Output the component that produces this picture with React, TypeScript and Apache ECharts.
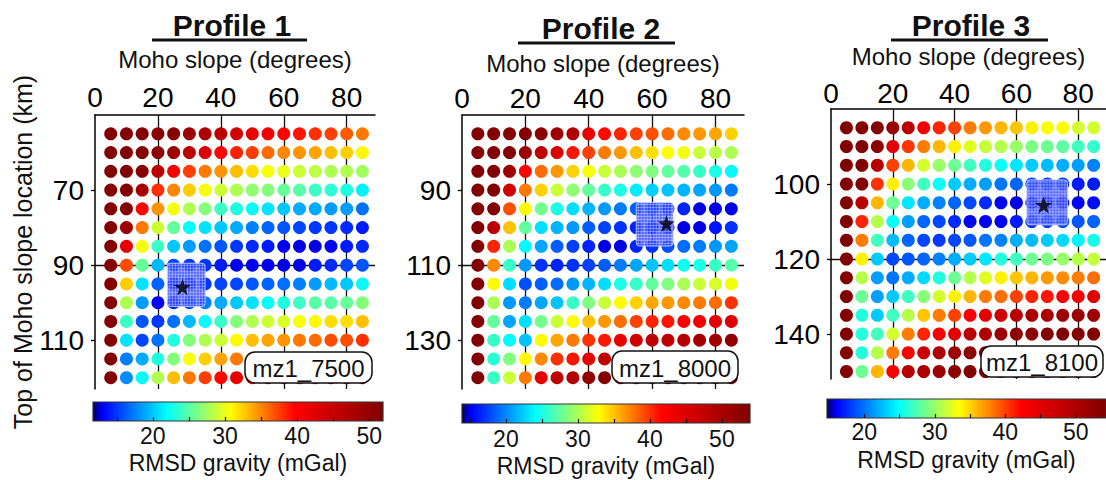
import React, { useEffect, useRef } from "react";
import * as echarts from "echarts";

// ---------------- DATA ----------------
const slopes = [5, 10, 15, 20, 25, 30, 35, 40, 45, 50, 55, 60, 65, 70, 75, 80, 85];
const locations1 = [55, 60, 65, 70, 75, 80, 85, 90, 95, 100, 105, 110, 115, 120];
const locations2 = [75, 80, 85, 90, 95, 100, 105, 110, 115, 120, 125, 130, 135, 140];
const locations3 = [85, 90, 95, 100, 105, 110, 115, 120, 125, 130, 135, 140, 145, 150];

const rmsd1 = [
  [51.5, 51.5, 51.5, 51, 51, 49, 47.5, 46, 44, 42, 41, 39.5, 39, 38, 37.5, 36.5, 35.5],
  [51.5, 51.5, 51.5, 50.5, 49, 46, 43, 39.5, 38.5, 37.5, 36, 35, 34.5, 34, 33, 32.5, 31],
  [51.5, 51.5, 51, 46, 40.5, 37.5, 35.5, 34.5, 33, 32, 30.5, 30, 29, 28.5, 28, 28, 27.5],
  [51.5, 51.5, 48, 38, 35, 32.5, 30.5, 29, 28, 27, 26.5, 25.5, 25, 24, 23.5, 23, 21.5],
  [51.5, 51.5, 39.5, 34.5, 30.5, 28, 26.5, 24, 23, 22, 21, 20, 19, 19, 18.5, 18.5, 17],
  [51.5, 49, 35.5, 29, 25.5, 22, 21, 20, 19, 17.5, 16.5, 16, 15.5, 15, 15, 14.5, 14],
  [51.5, 42, 30.5, 24, 20, 18.5, 17, 16, 15, 14.5, 14, 13, 12.8, 12.8, 13, 14, 14.5],
  [51.5, 37, 25.5, 19.5, 15.5, 15, 15, 14, 13, 13, 12.9, 12.8, 12.8, 14, 14.5, 15.5, 16],
  [51.5, 32.5, 21, 16.5, 14, 14, 15, 15.5, 15.5, 16, 16.5, 17, 17.5, 18.5, 19.5, 20, 22],
  [51.5, 28, 18.5, 13, 14.5, 16, 17.5, 19, 20, 21, 22, 23, 24, 25, 25, 25.5, 26.5],
  [51.5, 24, 16, 15, 17, 19.5, 22, 24, 26.5, 28, 29, 29.5, 30.5, 31, 32, 32, 33],
  [51.5, 21, 15.5, 17, 23, 26.5, 28, 29, 31, 33, 34, 34.5, 35.5, 36, 37, 37, 38],
  [51.5, 17.5, 19, 23, 26.5, 30.5, 32.5, 34, 35.5, 37, 38, 39, 40, 41, 42, 43, 44],
  [51.5, 18, 22, 28, 33, 35.5, 37.5, 39.5, 42, 44, 45, 46, 47, 48, 48.5, 49, 49.5],
];

const rmsd2 = [
  [53.5, 53.5, 53.5, 53.5, 52.5, 51, 49.5, 44, 41.5, 40.5, 39.5, 39, 38, 37, 36.5, 36, 34.5],
  [53.5, 53.5, 53.5, 51, 48, 45, 41, 39.5, 37.5, 36.5, 35, 34, 33, 32.5, 31, 30.5, 30],
  [53.5, 53.5, 51, 41.5, 38, 36.5, 34.5, 32.5, 31, 30, 29, 28.5, 27.5, 27, 26, 25, 24],
  [53.5, 53.5, 46, 37.5, 34.5, 31, 29, 27.5, 26, 25, 23.5, 22.5, 22, 21.5, 21, 20.5, 19.5],
  [53.5, 53.5, 39, 33, 28, 25, 23, 21.5, 20.5, 19.5, 18.5, 18, 17, 16.5, 15, 15, 15],
  [53.5, 48, 35, 27.5, 23, 21.5, 20.5, 18.5, 17.5, 17, 16.5, 16, 15.5, 15, 15, 16, 17],
  [53.5, 40.5, 30, 24, 21, 18.5, 17.5, 16.5, 15, 15, 16.5, 17, 18, 19, 19.5, 20.5, 21],
  [53.5, 37, 26, 20.5, 17, 16.5, 17, 17.5, 18.5, 19.5, 21, 22, 23, 24.5, 25, 26, 27],
  [53.5, 33, 23, 18, 18.5, 19, 20.5, 21.5, 23, 25, 26, 27.5, 28.5, 30, 31, 31.5, 32.5],
  [53.5, 30, 20.5, 19.5, 21, 22, 26, 28.5, 31, 33, 34.5, 36, 36.5, 37, 37.5, 38, 40],
  [53.5, 27.5, 21, 23, 28, 31, 33, 35, 36.5, 38, 39.5, 40.5, 41, 42, 43, 44, 45],
  [53.5, 26, 24, 22, 33, 36, 37.5, 40, 41, 44, 46, 48, 48, 49, 50.5, 50.5, 52],
  [53.5, 25.5, 28.5, 33, 37, 40, 41, 44, 48, 49, 50, 51, 52, 52, 53, 53, 53],
  [53.5, 26, 31, 37.5, 44, 48, 49, 52, 53.5, 53.5, 53.5, 53.5, 53.5, 53.5, 53.5, 53.5, 53.5],
];

const rmsd3 = [
  [54, 54, 54, 52, 49, 43, 41, 40, 38, 37, 36, 35.5, 34, 33.5, 33.5, 32, 32],
  [54, 54, 53, 45, 40.5, 38, 36, 34, 32.5, 31.5, 31, 30, 29, 28.5, 28, 27, 26.5],
  [54, 54, 49, 40, 36, 32, 30, 28.5, 27, 26, 25, 24, 23, 22.5, 22, 21.5, 20.5],
  [54, 54, 40.5, 34, 29.5, 27, 25, 23, 22, 21.5, 20, 19.5, 18.5, 18, 18, 17, 17],
  [54, 49, 36, 28.5, 24, 22, 20.5, 19.5, 18.5, 17.5, 16, 15.8, 16, 16, 16, 16, 16.5],
  [54, 41, 31, 25, 21.5, 19.5, 18.5, 17.5, 16, 16, 16, 17, 17.5, 18, 18.5, 19, 19.5],
  [54, 38, 27, 22.5, 19.5, 18.5, 18, 18.5, 19, 20, 20.5, 22, 22.5, 23, 23.5, 24.5, 25.5],
  [54, 34, 23, 18.5, 19, 19.5, 20.5, 22, 23, 24, 26, 27, 28.5, 29, 30, 31, 31.5],
  [54, 31, 21.5, 20, 22, 23.5, 26, 28.5, 31, 32.5, 34, 35.5, 36, 37, 37.5, 38, 38.5],
  [54, 28.5, 21.5, 23, 27, 29.5, 32, 34, 36, 38, 38.5, 40, 41, 41.5, 42.5, 43, 45],
  [54, 26, 23, 27, 31, 35.5, 38, 40, 43, 45, 47, 49, 50, 50, 51.5, 51.5, 51.5],
  [54, 26, 27, 32, 38, 41, 43, 45, 49, 50, 51.5, 53, 53, 54, 54, 54, 54],
  [54, 26, 31, 38, 42.5, 47, 50, 51.5, 53, 54, 54, 54, 54, 54, 54, 54, 54],
  [54, 28.5, 36, 42.5, 49, 50, 51.5, 53, 54, 54, 54, 54, 54, 54, 54, 54, 54],
];

// best-fit stars [slope, location] and shaded best-fit zones [x0, x1, y0, y1]
const best1 = [27.8, 95.8];
const best2 = [64.5, 98.9];
const best3 = [68.8, 105.6];
const zone1 = [23, 35, 89.5, 101];
const zone2 = [55, 66.6, 93.3, 104.9];
const zone3 = [63.4, 76.5, 98.9, 110.9];

const titles = ["Profile 1", "Profile 2", "Profile 3"];
const modelNames = ["mz1_7500", "mz1_8000", "mz1_8100"];
const xTickLabels = [0, 20, 40, 60, 80];
const yTickLabels1 = [70, 90, 110];
const yTickLabels2 = [90, 110, 130];
const yTickLabels3 = [100, 120, 140];
const cbarTickValues = [15, 20, 25, 30, 35, 40, 45, 50];
const cbarLabelValues = [20, 30, 40, 50];
const cbarRange1 = [11.7, 51.9];
const cbarRange2 = [13.9, 53.9];
const cbarRange3 = [14.7, 54.3];
const xName = "Moho slope (degrees)";
const yName = "Top of Moho slope location (km)";
const cbarName = "RMSD gravity (mGal)";

// ---------------- STYLE ----------------
const FONT = '"Liberation Sans", Arial, Helvetica, sans-serif';
const cmapStops: [number, string][] = [
  [0, "#00005a"], [0.02, "#0000c8"], [0.035, "#0000ff"], [0.145, "#0080ff"],
  [0.255, "#00ffff"], [0.365, "#80ff80"], [0.475, "#ffff00"], [0.585, "#ff8000"],
  [0.695, "#ff0000"], [1, "#800000"],
];
function hexToRgb(h: string) {
  return [parseInt(h.slice(1, 3), 16), parseInt(h.slice(3, 5), 16), parseInt(h.slice(5, 7), 16)];
}
function sampleCmap(t: number) {
  for (let i = 0; i < cmapStops.length - 1; i++) {
    const [t0, c0] = cmapStops[i];
    const [t1, c1] = cmapStops[i + 1];
    if (t >= t0 && t <= t1) {
      const f = (t - t0) / (t1 - t0);
      const a = hexToRgb(c0), b = hexToRgb(c1);
      const c = a.map((v, k) => Math.round(v + (b[k] - v) * f));
      return `rgb(${c[0]},${c[1]},${c[2]})`;
    }
  }
  return cmapStops[cmapStops.length - 1][1];
}
const cmapColors = Array.from({ length: 101 }, (_, i) => sampleCmap(i / 100));

const STAR =
  "path://M0,-10 L2.35,-3.24 L9.51,-3.09 L3.8,1.24 L5.88,8.09 L0,4 L-5.88,8.09 L-3.8,1.24 L-9.51,-3.09 L-2.35,-3.24 Z";

const panels = [
  {
    rows: rmsd1, locs: locations1, best: best1, zone: zone1, yTicks: yTickLabels1, cbar: cbarRange1,
    grid: { left: 95, top: 115, width: 280, height: 274 }, yMin: 50, yMax: 123,
    xLabelMargin: 4, xNameGap: 44, showYName: true,
    cgrid: { left: 93, top: 402, width: 290, height: 19 }, cLabelMargin: 3, cNameGap: 30,
    title: { x: 232, y: 25 }, underline: { x1: 152, x2: 307, y: 40 },
    box: { x: 245, y: 352, w: 127, h: 31 },
  },
  {
    rows: rmsd2, locs: locations2, best: best2, zone: zone2, yTicks: yTickLabels2, cbar: cbarRange2,
    grid: { left: 462, top: 115, width: 282, height: 274 }, yMin: 70, yMax: 143,
    xLabelMargin: 3, xNameGap: 40, showYName: false,
    cgrid: { left: 462, top: 404, width: 288, height: 19 }, cLabelMargin: 4, cNameGap: 31,
    title: { x: 601, y: 28 }, underline: { x1: 518, x2: 675, y: 43 },
    box: { x: 612, y: 351, w: 126, h: 32 },
  },
  {
    rows: rmsd3, locs: locations3, best: best3, zone: zone3, yTicks: yTickLabels3, cbar: cbarRange3,
    grid: { left: 831, top: 109, width: 279, height: 270 }, yMin: 80, yMax: 152,
    xLabelMargin: 2, xNameGap: 41, showYName: false,
    cgrid: { left: 827, top: 399, width: 282, height: 19 }, cLabelMargin: 2, cNameGap: 30,
    title: { x: 971, y: 25 }, underline: { x1: 891, x2: 1048, y: 40 },
    box: { x: 981, y: 346, w: 122, h: 31 },
  },
];

function buildOption() {
  const grid: any[] = [];
  const xAxis: any[] = [];
  const yAxis: any[] = [];
  const series: any[] = [];
  const visualMap: any[] = [];
  const graphic: any[] = [];

  panels.forEach((p, i) => {
    grid.push({ ...p.grid });
    xAxis.push({
      gridIndex: i, type: "value", position: "top", min: 0, max: 89,
      axisLine: { show: true, onZero: false, lineStyle: { color: "#000", width: 1.5 } },
      axisTick: { show: false },
      axisLabel: { customValues: xTickLabels, color: "#000", fontSize: 28, fontFamily: FONT, margin: p.xLabelMargin },
      splitLine: { show: true, showMinLine: false, showMaxLine: false, lineStyle: { color: "#111", width: 1.3 } },
      name: xName, nameLocation: "middle", nameGap: p.xNameGap,
      nameTextStyle: { color: "#111", fontSize: 24, fontFamily: FONT },
    });
    yAxis.push({
      gridIndex: i, type: "value", inverse: true, min: p.yMin, max: p.yMax, interval: 20,
      axisLine: { show: true, onZero: false, lineStyle: { color: "#000", width: 1.5 } },
      axisTick: { show: true, customValues: p.yTicks, length: 4, lineStyle: { color: "#000", width: 1.3 } },
      axisLabel: { customValues: p.yTicks, color: "#000", fontSize: 28, fontFamily: FONT, margin: 11 },
      splitLine: { show: true, showMinLine: false, showMaxLine: false, lineStyle: { color: "#111", width: 1.3 } },
      name: p.showYName ? yName : "", nameLocation: "middle", nameGap: 56,
      nameTextStyle: { color: "#111", fontSize: 25, fontFamily: FONT },
    });
    const data: number[][] = [];
    p.rows.forEach((row, r) => row.forEach((v, c) => data.push([slopes[c], p.locs[r], v])));
    series.push({
      type: "scatter", xAxisIndex: i, yAxisIndex: i, data, symbol: "circle", symbolSize: 13,
      itemStyle: { opacity: 1 }, z: 2, silent: true,
    });
    series.push({
      type: "custom", xAxisIndex: i, yAxisIndex: i, data: [p.zone], encode: { x: [0, 1], y: [2, 3] },
      z: 3, silent: true, clip: false,
      renderItem: (_params: any, api: any) => {
        const a = api.coord([api.value(0), api.value(2)]);
        const b = api.coord([api.value(1), api.value(3)]);
        const left = Math.min(a[0], b[0]), top = Math.min(a[1], b[1]);
        const w = Math.abs(b[0] - a[0]), h = Math.abs(b[1] - a[1]);
        const children: any[] = [
          { type: "rect", shape: { x: left, y: top, width: w, height: h, r: 3 },
            style: { fill: "rgba(45,70,255,0.82)", stroke: "rgba(200,210,255,0.9)", lineWidth: 1 } },
        ];
        for (let gx = left + 2; gx < left + w - 0.5; gx += 3)
          children.push({ type: "line", shape: { x1: gx, y1: top, x2: gx, y2: top + h },
            style: { stroke: "rgba(255,255,255,0.45)", lineWidth: 0.8 } });
        for (let gy = top + 2; gy < top + h - 0.5; gy += 3)
          children.push({ type: "line", shape: { x1: left, y1: gy, x2: left + w, y2: gy },
            style: { stroke: "rgba(255,255,255,0.45)", lineWidth: 0.8 } });
        return { type: "group", children };
      },
    });
    series.push({
      type: "scatter", xAxisIndex: i, yAxisIndex: i, data: [p.best], symbol: STAR, symbolSize: 17,
      itemStyle: { color: "#000" }, z: 4, silent: true,
    });
    visualMap.push({
      type: "continuous", show: false, seriesIndex: i * 3, dimension: 2,
      min: p.cbar[0], max: p.cbar[1], inRange: { color: cmapColors },
    });

    // titles & model boxes
    graphic.push({
      type: "text", x: p.title.x, y: p.title.y, z: 100,
      style: { text: titles[i], font: `bold 30px ${FONT}`, fill: "#111", textAlign: "center", textVerticalAlign: "middle" },
    });
    graphic.push({
      type: "line", z: 100, shape: { x1: p.underline.x1, y1: p.underline.y, x2: p.underline.x2, y2: p.underline.y },
      style: { stroke: "#111", lineWidth: 3 },
    });
    graphic.push({
      type: "rect", z: 100, shape: { x: p.box.x, y: p.box.y, width: p.box.w, height: p.box.h, r: 10 },
      style: { fill: "#fff", stroke: "#111", lineWidth: 1.5 },
    });
    graphic.push({
      type: "text", z: 101, x: p.box.x + p.box.w / 2, y: p.box.y + p.box.h / 2 + 1,
      style: { text: modelNames[i], font: `24px ${FONT}`, fill: "#111", textAlign: "center", textVerticalAlign: "middle" },
    });
  });

  // colour bars
  panels.forEach((p, i) => {
    const gi = 3 + i;
    const stops = cmapStops.map(([t, c]) => ({ offset: t, color: c }));
    grid.push({
      ...p.cgrid, show: true,
      backgroundColor: new echarts.graphic.LinearGradient(0, 0, 1, 0, stops),
      borderColor: "#333", borderWidth: 1.2,
    });
    xAxis.push({
      gridIndex: gi, type: "value", position: "bottom", min: p.cbar[0], max: p.cbar[1],
      axisLine: { show: false },
      axisTick: { show: true, inside: true, length: 4, customValues: cbarTickValues, lineStyle: { color: "#111", width: 1.2 } },
      axisLabel: { customValues: cbarLabelValues, color: "#111", fontSize: 23, fontFamily: FONT, margin: p.cLabelMargin },
      splitLine: { show: false },
      name: cbarName, nameLocation: "middle", nameGap: p.cNameGap,
      nameTextStyle: { color: "#111", fontSize: 23, fontFamily: FONT },
    });
    yAxis.push({ gridIndex: gi, type: "value", min: 0, max: 1, show: false });
  });

  return {
    animation: false,
    backgroundColor: "#fff",
    grid, xAxis, yAxis, series, visualMap, graphic,
  };
}

export default function App() {
  const ref = useRef<HTMLDivElement>(null);
  useEffect(() => {
    if (!ref.current) return;
    const chart = echarts.init(ref.current, undefined, { renderer: "svg" });
    chart.setOption(buildOption() as any);
    return () => chart.dispose();
  }, []);
  return (
    <div
      ref={ref}
      style={{ position: "absolute", left: 0, top: 0, width: 1106, height: 480, background: "#fff" }}
    />
  );
}
